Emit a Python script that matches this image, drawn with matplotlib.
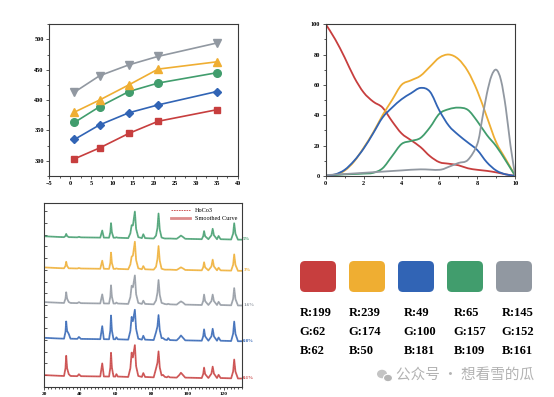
import matplotlib
matplotlib.use("Agg")
import matplotlib.pyplot as plt
from matplotlib.patches import FancyBboxPatch, Ellipse, PathPatch
from matplotlib.path import Path
from matplotlib.lines import Line2D
from matplotlib.ticker import MultipleLocator
import numpy as np

plt.rcParams['font.family'] = ['Liberation Serif', 'DejaVu Serif']
plt.rcParams['font.weight'] = 'bold'

# palette (RGB)
pal_r = [199, 239, 49, 65, 145]
pal_g = [62, 174, 100, 157, 152]
pal_b = [62, 50, 181, 109, 161]
cols = [(r / 255, g / 255, b / 255) for r, g, b in zip(pal_r, pal_g, pal_b)]
c_red, c_orange, c_blue, c_green, c_gray = cols

# top left: line + markers
tl_x = [1, 7, 14, 21, 35]
tl_red = [303, 321, 345, 365, 384]
tl_blue = [335, 359, 379, 392, 414]
tl_green = [363, 389, 414, 428, 445]
tl_orange = [380, 400, 425, 451, 463]
tl_gray = [413, 440, 458, 472, 494]

# top right: curves
tr_x = [0, 0.5, 1, 1.5, 2, 2.5, 3, 3.5, 4, 4.5, 5, 5.5, 6, 6.5, 7, 7.5, 8, 8.5, 9, 9.5, 10]
tr_red = [100, 90, 78, 65, 55, 49, 45, 36, 28, 23.5, 19, 13, 9, 8, 7, 5, 4, 3.3, 2.3, 1, 0]
tr_orange = [0, 0.8, 3.5, 9.5, 18.5, 28.5, 40, 50, 60, 63, 66, 72, 78, 80, 77, 69, 56, 39, 22, 11, 0]
tr_blue = [0, 1, 4, 10, 18, 28, 38.5, 45, 50.5, 54.5, 58, 55.5, 43, 33, 27, 22, 17, 9, 3.5, 1, 0]
tr_green = [0, 0.5, 1, 1.2, 1.5, 2, 5, 13, 21, 23, 25, 32, 41, 44, 45, 43.5, 36, 27, 19.5, 10, 0]
tr_gray_x = [0, 1, 2, 3, 4, 5, 6, 6.5, 7, 7.5, 8, 8.25, 8.5, 8.75, 9, 9.25, 9.5, 9.75, 10]
tr_gray = [0.5, 1.2, 2, 2.8, 3.6, 4.3, 4, 6, 8.5, 10.5, 21, 37, 54, 66, 70, 63, 45, 20, 0]

# bottom left: stacked patterns (2theta vertices, background, peak heights)
xrd_x = [20, 28, 31.0, 31.8, 32.2, 32.7, 33.6, 34.6, 38.4, 39.3, 40.4,
         51.2, 52.3, 53.2, 56.1, 56.8, 57.2, 57.7, 58.6, 59.6, 60.2, 61.0,
         66.8, 68.0, 68.7, 69.4, 70.5, 71.2, 72.4, 74.4, 75.2, 76.2,
         81.0, 82.3, 83.1, 83.7, 84.4, 85.4, 86.2, 87.2, 88.4, 89.1, 90.0,
         93.8, 95.2, 96.2, 97.4, 98.6, 107.8, 108.6, 109.1, 109.7, 111.5,
         113.2, 113.9, 114.6, 116.3, 117.2, 118.3, 124.2, 125.3, 125.9, 126.6, 128.0, 130]
xrd_bg = [35, 28, 26, 26, 26, 26, 26, 26, 24, 24, 24,
          21, 21, 21, 20, 20, 20, 20, 20, 20, 20, 20,
          16, 16, 16, 16, 16, 16, 16, 16, 16, 16,
          12, 12, 12, 12, 12, 12, 12, 12, 12, 12, 12,
          9, 9, 9, 9, 9, 5, 5, 5, 5, 5,
          5, 5, 5, 5, 5, 5, 2, 2, 2, 1, 0, 0]
xrd_red = [0, 0, 0, 80, 207, 80, 20, 0, 0, 20, 0,
           0, 134, 0, 0, 90, 244, 90, 0, 0, 25, 0,
           0, 90, 250, 200, 327, 110, 10, 0, 40, 0,
           0, 90, 150, 267, 100, 20, 25, 5, 0, 10, 0,
           0, 25, 50, 25, 0, 0, 40, 107, 40, 0,
           45, 117, 45, 0, 33, 0, 0, 70, 193, 70, 0, 0]
xrd_blue = [0, 0, 0, 70, 177, 80, 50, 0, 0, 20, 0,
            0, 134, 0, 0, 90, 244, 90, 0, 0, 20, 0,
            0, 90, 234, 190, 307, 110, 10, 0, 40, 0,
            0, 80, 140, 257, 100, 20, 20, 5, 0, 20, 0,
            0, 25, 50, 25, 0, 0, 45, 117, 45, 0,
            45, 123, 45, 0, 33, 0, 0, 75, 200, 75, 0, 0]
xrd_gray = [0, 0, 0, 45, 110, 45, 10, 0, 0, 10, 0,
            0, 93, 0, 0, 70, 187, 70, 0, 0, 10, 0,
            0, 70, 187, 170, 293, 100, 10, 0, 33, 0,
            0, 40, 120, 250, 95, 15, 10, 3, 0, 5, 0,
            0, 20, 33, 20, 0, 0, 40, 107, 40, 0,
            40, 107, 40, 0, 33, 0, 0, 65, 177, 65, 0, 0]
xrd_orange = [0, 0, 0, 25, 67, 25, 0, 0, 0, 5, 0,
              0, 83, 0, 0, 60, 167, 60, 0, 0, 5, 0,
              0, 50, 130, 140, 283, 95, 10, 0, 33, 0,
              0, 30, 110, 243, 90, 10, 5, 0, 0, 0, 0,
              0, 15, 27, 15, 0, 0, 30, 83, 30, 0,
              40, 110, 40, 0, 27, 0, 0, 60, 167, 60, 0, 0]
xrd_green = [0, 0, 0, 12, 33, 12, 0, 0, 0, 5, 0,
             0, 73, 0, 0, 55, 150, 55, 0, 0, 5, 0,
             0, 50, 133, 130, 273, 95, 10, 0, 40, 0,
             0, 30, 110, 257, 90, 10, 5, 0, 0, 0, 0,
             0, 18, 33, 18, 0, 0, 30, 83, 30, 0,
             40, 107, 40, 0, 33, 0, 0, 60, 167, 60, 0, 0]
xrd_labels = ['0.1%', '0.8%', '1.6%', '3%', '5%']
xrd_offsets = [84, 467, 834, 1190, 1510]

fig = plt.figure(figsize=(5.54, 3.97), dpi=100)


def style_axes(ax, size=4.5):
    for sp in ax.spines.values():
        sp.set_color('#3a3a3a')
        sp.set_linewidth(0.8)
    ax.tick_params(which='both', labelsize=size, width=0.6, color='#3a3a3a', pad=1.5)
    ax.tick_params(which='major', length=2.5)
    ax.tick_params(which='minor', length=1.3)
    for lab in ax.get_xticklabels() + ax.get_yticklabels():
        lab.set_fontweight('bold')


def smooth_line(ax, x, y, color, lw):
    # bezier path through the points (catmull-rom control points)
    pts = np.column_stack([x, y]).astype(float)
    ext = np.vstack([pts[0], pts, pts[-1]])
    verts = [pts[0]]
    codes = [Path.MOVETO]
    for i in range(len(pts) - 1):
        p0, p1, p2, p3 = ext[i], ext[i + 1], ext[i + 2], ext[i + 3]
        verts += [p1 + (p2 - p0) / 6, p2 - (p3 - p1) / 6, p2]
        codes += [Path.CURVE4] * 3
    ax.add_patch(PathPatch(Path(verts, codes), fill=False, ec=color, lw=lw,
                           capstyle='round', joinstyle='round'))


# top left
ax1 = fig.add_axes([0.089, 0.557, 0.340, 0.382])
ax1.plot(tl_x, tl_red, '-s', color=c_red, lw=1.2, ms=5)
ax1.plot(tl_x, tl_blue, '-D', color=c_blue, lw=1.2, ms=4.5)
ax1.plot(tl_x, tl_green, '-o', color=c_green, lw=1.2, ms=5.5)
ax1.plot(tl_x, tl_orange, '-^', color=c_orange, lw=1.2, ms=6)
ax1.plot(tl_x, tl_gray, '-v', color=c_gray, lw=1.2, ms=6)
ax1.set_xlim(-5, 40)
ax1.set_ylim(275, 525)
ax1.xaxis.set_major_locator(MultipleLocator(5))
ax1.xaxis.set_minor_locator(MultipleLocator(2.5))
ax1.yaxis.set_major_locator(MultipleLocator(50))
ax1.yaxis.set_minor_locator(MultipleLocator(25))
style_axes(ax1)

# top right
ax2 = fig.add_axes([0.588, 0.557, 0.342, 0.382])
smooth_line(ax2, tr_x, tr_red, c_red, 1.3)
smooth_line(ax2, tr_x, tr_orange, c_orange, 1.3)
smooth_line(ax2, tr_x, tr_green, c_green, 1.3)
smooth_line(ax2, tr_x, tr_blue, c_blue, 1.3)
smooth_line(ax2, tr_gray_x, tr_gray, c_gray, 1.3)
ax2.set_xlim(0, 10)
ax2.set_ylim(0, 100)
ax2.xaxis.set_major_locator(MultipleLocator(2))
ax2.xaxis.set_minor_locator(MultipleLocator(1))
ax2.yaxis.set_major_locator(MultipleLocator(20))
ax2.yaxis.set_minor_locator(MultipleLocator(10))
style_axes(ax2)

# bottom left
ax3 = fig.add_axes([0.080, 0.026, 0.356, 0.462])
series = [xrd_red, xrd_blue, xrd_gray, xrd_orange, xrd_green]
order = [c_red, c_blue, c_gray, c_orange, c_green]
bg = np.array(xrd_bg)
for vals, c, off, lab in zip(series, order, xrd_offsets, xrd_labels):
    y = off + bg + np.array(vals)
    ax3.plot(xrd_x, y, color=c, lw=1.3, alpha=0.8)
    ax3.plot(xrd_x, y, color=c, lw=0.4, ls=(0, (2, 1)), alpha=0.9)
    ax3.text(131, off + 5, lab, color=c, fontsize=3.5, va='center', ha='left',
             clip_on=False)
ax3.set_xlim(20, 130)
ax3.set_ylim(0, 1884)
ax3.xaxis.set_major_locator(MultipleLocator(20))
ax3.xaxis.set_minor_locator(MultipleLocator(2))
ax3.yaxis.set_major_locator(MultipleLocator(120))
ax3.set_yticklabels([])
style_axes(ax3, size=3.8)
ax3.tick_params(axis='y', direction='in')
ax3.tick_params(axis='x', pad=1)
handles = [Line2D([], [], color=c_red, lw=0.6, ls=(0, (2, 1))),
           Line2D([], [], color=c_red, lw=2, alpha=0.6)]
ax3.legend(handles, ['HoCo3', 'Smoothed Curve'], loc='upper right',
           frameon=False, handlelength=3, borderaxespad=0.3, labelspacing=0.4,
           prop={'size': 4.5, 'weight': 'normal'})

# palette panel, pixel coordinates
axp = fig.add_axes([0, 0, 1, 1])
axp.set_xlim(0, 554)
axp.set_ylim(397, 0)
axp.axis('off')
axp.patch.set_alpha(0)
sq_x = [300, 349, 398, 447, 496]
txt_x = [300, 349, 404, 454, 502]
for i, c in enumerate(cols):
    axp.add_patch(FancyBboxPatch((sq_x[i], 261), 36, 31,
                                 boxstyle='round,pad=0,rounding_size=5',
                                 fc=c, ec='none'))
    axp.text(txt_x[i], 313, 'R:%d' % pal_r[i], fontsize=9, fontweight='bold', va='center')
    axp.text(txt_x[i] - 1, 332, 'G:%d' % pal_g[i], fontsize=9, fontweight='bold', va='center')
    axp.text(txt_x[i], 351, 'B:%d' % pal_b[i], fontsize=9, fontweight='bold', va='center')

# watermark
axp.add_patch(Ellipse((382, 374), 10, 8.5, fc='#c4c4c4', ec='none'))
axp.add_patch(Ellipse((388, 378), 9, 7.5, fc='#b5b5b5', ec='white', lw=0.8))
axp.text(396, 375, '公众号 · 想看雪的瓜', fontsize=10.5, color='#b3b3b3',
         family=['Noto Sans CJK SC', 'DejaVu Sans'], fontweight='normal', va='center')

fig.savefig('out.png', dpi=100)
